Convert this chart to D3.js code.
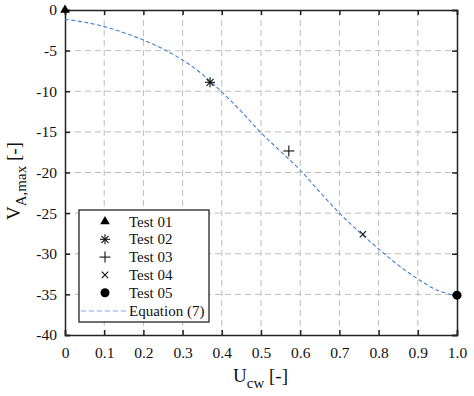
<!DOCTYPE html>
<html>
<head>
<meta charset="utf-8">
<script src="https://cdn.jsdelivr.net/npm/d3@7"></script>
<style>
body { margin: 0; background: #fff; }
svg, svg text { font-family: "Liberation Serif", "Times New Roman", serif; }
</style>
</head>
<body>
<svg id="chart"></svg>
<script>
// chart data
let xTicks = [0, 0.1, 0.2, 0.3, 0.4, 0.5, 0.6, 0.7, 0.8, 0.9, 1.0]
let xTickLabels = ['0', '0.1', '0.2', '0.3', '0.4', '0.5', '0.6', '0.7', '0.8', '0.9', '1.0']
let yTicks = [0, -5, -10, -15, -20, -25, -30, -35, -40]
let yTickLabels = ['0', '-5', '-10', '-15', '-20', '-25', '-30', '-35', '-40']

let testNames = ['Test 01', 'Test 02', 'Test 03', 'Test 04', 'Test 05']
let testU = [0, 0.37, 0.571, 0.76, 1.0]
let testV = [0, -8.9, -17.35, -27.6, -35.1]
let testSymbols = ['triangle', 'asterisk', 'plus', 'cross', 'circle']

let curveU = [0, 0.05, 0.1, 0.15, 0.2, 0.25, 0.3, 0.35, 0.4, 0.45, 0.5, 0.55, 0.6, 0.65, 0.7, 0.75, 0.8, 0.85, 0.9, 0.95, 1.0]
let curveV = [-1.15, -1.5, -2.05, -2.8, -3.7, -4.8, -6.15, -7.9, -10.1, -12.5, -15.1, -17.4, -19.7, -22.4, -25.0, -27.3, -29.4, -31.4, -33.1, -34.5, -35.2]
let curveName = 'Equation (7)'

let width = 474
let height = 396
//plot area edges
let pLeft = 65, pRight = 457, pTop = 10, pBottom = 335
let serif = '"Liberation Serif", "Times New Roman", serif'

let svg = d3.select('#chart').attr('width', width).attr('height', height)

let xScale = d3.scaleLinear().domain([0, 1]).range([pLeft, pRight])
let yScale = d3.scaleLinear().domain([-40, 0]).range([pBottom, pTop])

// grid
let grid = svg.append('g')
grid.selectAll('.gx')
    .data(xTicks.slice(1, -1))
    .enter()
    .append('line')
    .attr('x1', d => xScale(d)).attr('x2', d => xScale(d))
    .attr('y1', pTop).attr('y2', pBottom)
    .attr('stroke', '#bdbdbd').attr('stroke-dasharray', '6,4')
grid.selectAll('.gy')
    .data(yTicks.slice(1, -1))
    .enter()
    .append('line')
    .attr('x1', pLeft).attr('x2', pRight)
    .attr('y1', d => yScale(d)).attr('y2', d => yScale(d))
    .attr('stroke', '#bdbdbd').attr('stroke-dasharray', '6,4')

// axes with inward ticks, box all round
let xAxis = d3.axisBottom(xScale).tickValues(xTicks).tickSize(-5).tickPadding(12)
    .tickFormat((d, i) => xTickLabels[i])
let yAxis = d3.axisLeft(yScale).tickValues(yTicks).tickSize(-5).tickPadding(8)
    .tickFormat((d, i) => yTickLabels[i])

let gx = svg.append('g').attr('transform', 'translate(0,' + pBottom + ')').call(xAxis)
let gy = svg.append('g').attr('transform', 'translate(' + pLeft + ',0)').call(yAxis)
let gxt = svg.append('g').attr('transform', 'translate(0,' + pTop + ')')
    .call(d3.axisTop(xScale).tickValues(xTicks).tickSize(-5).tickFormat(''))
let gyr = svg.append('g').attr('transform', 'translate(' + pRight + ',0)')
    .call(d3.axisRight(yScale).tickValues(yTicks).tickSize(-5).tickFormat(''))

;[gx, gy, gxt, gyr].forEach(g => {
    g.attr('font-family', serif).attr('font-size', 15.5)
    g.select('.domain').attr('stroke', '#222').attr('stroke-width', 1.5)
    g.selectAll('.tick line').attr('stroke', '#222').attr('stroke-width', 1.5)
    g.selectAll('.tick text').attr('fill', '#111')
})

// curve
let line = d3.line()
    .x((d, i) => xScale(curveU[i]))
    .y(d => yScale(d))
    .curve(d3.curveCatmullRom)
svg.append('path')
    .datum(curveV)
    .attr('d', line)
    .attr('fill', 'none')
    .attr('stroke', '#3f7fd6')
    .attr('stroke-width', 1.1)
    .attr('stroke-dasharray', '4,2.5')

// markers
let drawSymbol = (g, kind, cx, cy) => {
    if (kind === 'triangle') {
        g.append('path').attr('d', d3.symbol(d3.symbolTriangle, 40)())
            .attr('transform', 'translate(' + cx + ',' + cy + ')').attr('fill', '#000')
    } else if (kind === 'circle') {
        g.append('circle').attr('cx', cx).attr('cy', cy).attr('r', 4.5).attr('fill', '#000')
    } else {
        let angles = kind === 'plus' ? [0, 90] : kind === 'cross' ? [45, 135] : [0, 45, 90, 135]
        let rr = kind === 'cross' ? 4.5 : (kind === 'asterisk' ? 5 : 5.5)
        angles.forEach(a => {
            let t = a * Math.PI / 180
            g.append('line')
                .attr('x1', cx - rr * Math.cos(t)).attr('y1', cy - rr * Math.sin(t))
                .attr('x2', cx + rr * Math.cos(t)).attr('y2', cy + rr * Math.sin(t))
                .attr('stroke', '#111').attr('stroke-width', 1.1)
        })
    }
}

let marks = svg.append('g')
testNames.forEach((name, i) => {
    drawSymbol(marks, testSymbols[i], xScale(testU[i]), yScale(testV[i]))
})

// legend
let legend = svg.append('g').attr('font-family', serif)
legend.append('rect')
    .attr('x', 79).attr('y', 210).attr('width', 130).attr('height', 112)
    .attr('fill', '#fff').attr('stroke', '#111').attr('stroke-width', 1.2)
testNames.forEach((name, i) => {
    let cy = 221.5 + i * 17.8
    drawSymbol(legend, testSymbols[i], 105, cy)
    legend.append('text').attr('x', 129).attr('y', cy + 5)
        .attr('font-size', 15).attr('fill', '#111').text(name)
})
legend.append('line')
    .attr('x1', 81).attr('x2', 128).attr('y1', 311).attr('y2', 311)
    .attr('stroke', '#7aa6e6').attr('stroke-width', 1.1).attr('stroke-dasharray', '5,3')
legend.append('text').attr('x', 129).attr('y', 316)
    .attr('font-size', 15).attr('fill', '#111').text(curveName)

// axis titles
let xt = svg.append('text').attr('x', 233).attr('y', 382)
    .attr('font-family', serif).attr('font-size', 19).attr('fill', '#111')
xt.append('tspan').text('U')
xt.append('tspan').attr('dy', 6).attr('font-size', 15).text('cw')
xt.append('tspan').attr('dy', -6).text(' [-]')

let yt = svg.append('text')
    .attr('transform', 'translate(20,' + 220 + ') rotate(-90)')
    .attr('font-family', serif).attr('font-size', 19).attr('fill', '#111')
yt.append('tspan').text('V')
yt.append('tspan').attr('dy', 6).attr('font-size', 15).text('A,max')
yt.append('tspan').attr('dy', -6).text('  [-]')
</script>
</body>
</html>
